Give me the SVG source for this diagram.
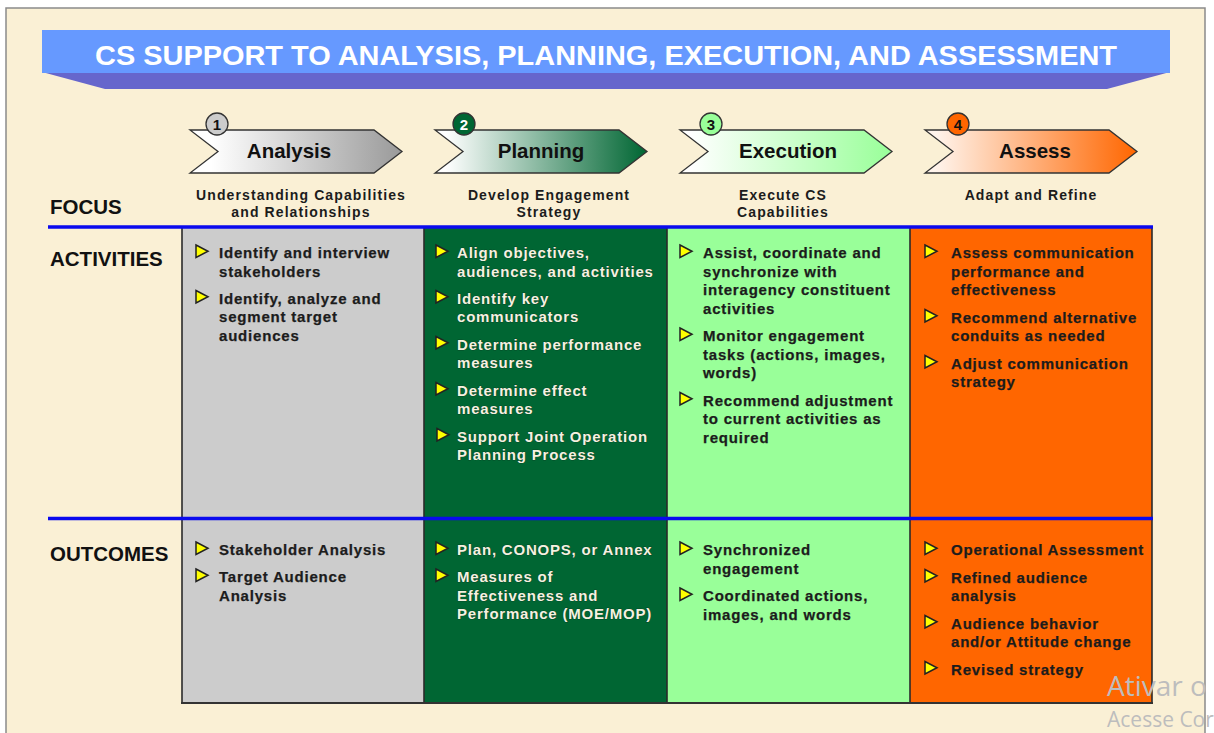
<svg xmlns="http://www.w3.org/2000/svg" width="1214" height="733" viewBox="0 0 1214 733">
<defs>
<linearGradient id="g1" x1="0" y1="0" x2="1" y2="0"><stop offset="0.1" stop-color="#FFFFFF"/><stop offset="1" stop-color="#9A9A9A"/></linearGradient>
<linearGradient id="g2" x1="0" y1="0" x2="1" y2="0"><stop offset="0.05" stop-color="#FFFFFF"/><stop offset="1" stop-color="#006633"/></linearGradient>
<linearGradient id="g3" x1="0" y1="0" x2="1" y2="0"><stop offset="0.05" stop-color="#FFFFFF"/><stop offset="1" stop-color="#99FF99"/></linearGradient>
<linearGradient id="g4" x1="0" y1="0" x2="1" y2="0"><stop offset="0.05" stop-color="#FFF4EC"/><stop offset="1" stop-color="#FF6600"/></linearGradient>
<path id="tri" d="M0,-12.5 L12,-6.25 L0,0 Z"/>
<path id="chev" d="M0,0 L184,0 L212,21.5 L184,43 L0,43 L28,21.5 Z"/>
<style>
.t{font-family:"Liberation Sans",Arial,sans-serif;font-weight:bold}
.body{font-size:15px;letter-spacing:0.8px;fill:#1c1c1c;stroke:#1c1c1c;stroke-width:0.25px}
.light{fill:#F4F2E0;stroke:#0d2a18;stroke-width:0.6px;paint-order:stroke}
.row{font-size:20.5px;fill:#111}
.focus{font-size:14px;letter-spacing:1.1px;fill:#1c1c1c;text-anchor:middle}
.phase{font-size:20.5px;fill:#111;text-anchor:middle}
.num{font-size:15px;text-anchor:middle}
.tri{fill:#FFFF00;stroke:#222;stroke-width:1.5px;stroke-linejoin:miter}
.chev{stroke:#333;stroke-width:1.3px}
.circ{stroke:#333;stroke-width:1.3px}
.blue{stroke:#0A0AEE;stroke-width:3.5px}
.div{stroke:#2a2a2a;stroke-width:1.6px}
.wm{font-family:"Open Sans","Noto Sans",sans-serif;fill:#BDBDBD}
</style>
</defs>
<rect x="0" y="0" width="1214" height="733" fill="#FFFFFF"/>
<rect id="frame" x="6" y="8" width="1199" height="740" fill="#FAF0D5" stroke="#8A8A8A" stroke-width="1.5"/>
<g id="title">
<polygon points="42,72 1170,72 1107,89 105,89" fill="#6666CC"/>
<rect x="42" y="30" width="1128" height="43" fill="#6699FF"/>
<text class="t" x="606" y="65" font-size="28" fill="#FFFFFF" text-anchor="middle" textLength="1022" lengthAdjust="spacingAndGlyphs">CS SUPPORT TO ANALYSIS, PLANNING, EXECUTION, AND ASSESSMENT</text>
</g>
<g id="phase-1">
<use href="#chev" x="190" y="130" fill="url(#g1)" class="chev"/>
<circle class="circ" cx="217" cy="124" r="11" fill="#CCCCCC"/>
<text class="t num" x="217" y="129.5" fill="#111">1</text>
<text class="t phase" x="289" y="158">Analysis</text>
<text class="t focus" x="301" y="200">Understanding Capabilities</text>
<text class="t focus" x="301" y="217">and Relationships</text>
</g>
<g id="phase-2">
<use href="#chev" x="435" y="130" fill="url(#g2)" class="chev"/>
<circle class="circ" cx="464" cy="124" r="11" fill="#006633"/>
<text class="t num" x="464" y="129.5" fill="#FFFFFF">2</text>
<text class="t phase" x="541" y="158">Planning</text>
<text class="t focus" x="549" y="200">Develop Engagement</text>
<text class="t focus" x="549" y="217">Strategy</text>
</g>
<g id="phase-3">
<use href="#chev" x="680" y="130" fill="url(#g3)" class="chev"/>
<circle class="circ" cx="711" cy="124" r="11" fill="#99FF99"/>
<text class="t num" x="711" y="129.5" fill="#111">3</text>
<text class="t phase" x="788" y="158">Execution</text>
<text class="t focus" x="783" y="200">Execute CS</text>
<text class="t focus" x="783" y="217">Capabilities</text>
</g>
<g id="phase-4">
<use href="#chev" x="925" y="130" fill="url(#g4)" class="chev"/>
<circle class="circ" cx="958" cy="124" r="11" fill="#FF6600"/>
<text class="t num" x="958" y="129.5" fill="#111">4</text>
<text class="t phase" x="1035" y="158">Assess</text>
<text class="t focus" x="1031" y="200">Adapt and Refine</text>
</g>
<g id="row-labels">
<text class="t row" x="50" y="214">FOCUS</text>
<text class="t row" x="50" y="266">ACTIVITIES</text>
<text class="t row" x="50" y="561">OUTCOMES</text>
</g>
<g id="col-analysis">
<rect x="182" y="228" width="242" height="475" fill="#CCCCCC"/>
<g class="tri"><use href="#tri" x="196" y="257.5"/><use href="#tri" x="196" y="303"/><use href="#tri" x="196" y="554.5"/><use href="#tri" x="196" y="581.5"/></g>
<text class="t body" x="219" y="258">Identify and interview</text>
<text class="t body" x="219" y="276.5">stakeholders</text>
<text class="t body" x="219" y="303.5">Identify, analyze and</text>
<text class="t body" x="219" y="322">segment target</text>
<text class="t body" x="219" y="340.5">audiences</text>
<text class="t body" x="219" y="555">Stakeholder Analysis</text>
<text class="t body" x="219" y="582">Target Audience</text>
<text class="t body" x="219" y="600.5">Analysis</text>
</g>
<g id="col-planning">
<rect x="424" y="228" width="243" height="475" fill="#006633"/>
<g class="tri"><use href="#tri" x="436" y="257.5"/><use href="#tri" x="436" y="303"/><use href="#tri" x="436" y="349"/><use href="#tri" x="436" y="395"/><use href="#tri" x="437" y="441"/><use href="#tri" x="436" y="554.5"/><use href="#tri" x="436" y="581.5"/></g>
<text class="t body light" x="457" y="258">Align objectives,</text>
<text class="t body light" x="457" y="276.5">audiences, and activities</text>
<text class="t body light" x="457" y="303.5">Identify key</text>
<text class="t body light" x="457" y="322">communicators</text>
<text class="t body light" x="457" y="349.5">Determine performance</text>
<text class="t body light" x="457" y="368">measures</text>
<text class="t body light" x="457" y="395.5">Determine effect</text>
<text class="t body light" x="457" y="414">measures</text>
<text class="t body light" x="457" y="441.5">Support Joint Operation</text>
<text class="t body light" x="457" y="460">Planning Process</text>
<text class="t body light" x="457" y="555">Plan, CONOPS, or Annex</text>
<text class="t body light" x="457" y="582">Measures of</text>
<text class="t body light" x="457" y="600.5">Effectiveness and</text>
<text class="t body light" x="457" y="619">Performance (MOE/MOP)</text>
</g>
<g id="col-execution">
<rect x="667" y="228" width="243" height="475" fill="#99FF99"/>
<g class="tri"><use href="#tri" x="680" y="257.5"/><use href="#tri" x="680" y="340.5"/><use href="#tri" x="680" y="405"/><use href="#tri" x="680" y="554.5"/><use href="#tri" x="680" y="600.5"/></g>
<text class="t body" x="703" y="258">Assist, coordinate and</text>
<text class="t body" x="703" y="276.5">synchronize with</text>
<text class="t body" x="703" y="295">interagency constituent</text>
<text class="t body" x="703" y="313.5">activities</text>
<text class="t body" x="703" y="341">Monitor engagement</text>
<text class="t body" x="703" y="359.5">tasks (actions, images,</text>
<text class="t body" x="703" y="378">words)</text>
<text class="t body" x="703" y="405.5">Recommend adjustment</text>
<text class="t body" x="703" y="424">to current activities as</text>
<text class="t body" x="703" y="442.5">required</text>
<text class="t body" x="703" y="555">Synchronized</text>
<text class="t body" x="703" y="573.5">engagement</text>
<text class="t body" x="703" y="601">Coordinated actions,</text>
<text class="t body" x="703" y="619.5">images, and words</text>
</g>
<g id="col-assess">
<rect x="910" y="228" width="242" height="475" fill="#FF6600"/>
<g class="tri"><use href="#tri" x="925" y="257.5"/><use href="#tri" x="925" y="322"/><use href="#tri" x="925" y="368"/><use href="#tri" x="925" y="554.5"/><use href="#tri" x="925" y="582"/><use href="#tri" x="925" y="628"/><use href="#tri" x="925" y="674"/></g>
<text class="t body" x="951" y="258">Assess communication</text>
<text class="t body" x="951" y="276.5">performance and</text>
<text class="t body" x="951" y="295">effectiveness</text>
<text class="t body" x="951" y="322.5">Recommend alternative</text>
<text class="t body" x="951" y="341">conduits as needed</text>
<text class="t body" x="951" y="368.5">Adjust communication</text>
<text class="t body" x="951" y="387">strategy</text>
<text class="t body" x="951" y="555">Operational Assessment</text>
<text class="t body" x="951" y="582.5">Refined audience</text>
<text class="t body" x="951" y="601">analysis</text>
<text class="t body" x="951" y="628.5">Audience behavior</text>
<text class="t body" x="951" y="647">and/or Attitude change</text>
<text class="t body" x="951" y="674.5">Revised strategy</text>
</g>
<g id="grid">
<line class="div" x1="182" y1="228" x2="182" y2="703"/>
<line class="div" x1="424" y1="228" x2="424" y2="703"/>
<line class="div" x1="667" y1="228" x2="667" y2="703"/>
<line class="div" x1="910" y1="228" x2="910" y2="703"/>
<line class="div" x1="1152" y1="228" x2="1152" y2="703"/>
<line stroke="#333" stroke-width="2.2" x1="181" y1="703" x2="1153" y2="703"/>
<line class="blue" x1="48" y1="227" x2="1153" y2="227"/>
<line class="blue" x1="48" y1="518.5" x2="1153" y2="518.5"/>
</g>
<g id="watermark">
<text class="wm" x="1107" y="696" font-size="28">Ativar o</text>
<text class="wm" x="1107" y="727" font-size="21">Acesse Cor</text>
</g>
</svg>
